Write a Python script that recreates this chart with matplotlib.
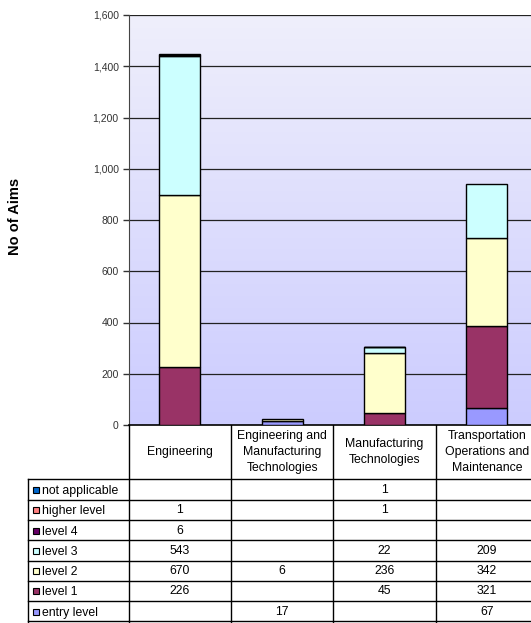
import numpy as np
import matplotlib
matplotlib.use("Agg")
import matplotlib.pyplot as plt
from matplotlib.patches import Rectangle
from matplotlib.ticker import FuncFormatter

plt.rcParams['font.family'] = ['Liberation Sans', 'DejaVu Sans']

# Data
categories = ["Engineering",
              "Engineering and\nManufacturing\nTechnologies",
              "Manufacturing\nTechnologies",
              "Transportation\nOperations and\nMaintenance"]
levels = ["entry level", "level 1", "level 2", "level 3", "level 4",
          "higher level", "not applicable"]
entry_level = [None, 17, None, 67]
level_1 = [226, None, 45, 321]
level_2 = [670, 6, 236, 342]
level_3 = [543, None, 22, 209]
level_4 = [6, None, None, None]
higher_level = [1, None, 1, None]
not_applicable = [None, None, 1, None]
colors = ["#9999ff", "#993366", "#ffffcc", "#ccffff", "#660066",
          "#ff8080", "#0066cc"]
y_ticks = [0, 200, 400, 600, 800, 1000, 1200, 1400, 1600]

series = [entry_level, level_1, level_2, level_3, level_4,
          higher_level, not_applicable]

W, H = 531, 623
fig = plt.figure(figsize=(W / 100, H / 100), dpi=100)

# plot area in pixel coordinates (top-left origin)
ax_left, ax_top, ax_bottom = 128.5, 15, 425
col_w = 102.4
ax_right = ax_left + 4 * col_w
ax = fig.add_axes([ax_left / W, (H - ax_bottom) / H,
                   (ax_right - ax_left) / W, (ax_bottom - ax_top) / H])

# gradient background
grad = np.linspace(0, 1, 256).reshape(-1, 1)
top_c = np.array([0xef, 0xef, 0xfb]) / 255
bot_c = np.array([0xcc, 0xcc, 0xff]) / 255
img = top_c + (bot_c - top_c) * grad
ax.imshow(img[:, None, :].repeat(2, axis=1), extent=[0, 1, 0, 1],
          transform=ax.transAxes, aspect='auto', zorder=0)

ax.set_xlim(0, 4)
ax.set_ylim(0, 1600)
for t in y_ticks[1:]:
    ax.axhline(t, color='#222222', lw=0.9, zorder=1)

x = np.arange(4) + 0.5
bottom = np.zeros(4)
for vals, c in zip(series, colors):
    v = np.array([0 if a is None else a for a in vals], dtype=float)
    for i in range(4):
        if v[i] > 0:
            ax.bar(x[i], v[i], width=0.4, bottom=bottom[i], color=c,
                   edgecolor='black', linewidth=1, zorder=3)
    bottom += v

ax.set_yticks(y_ticks)
ax.yaxis.set_major_formatter(FuncFormatter(lambda v, p: f"{int(v):,}"))
ax.tick_params(axis='y', labelsize=7.5, colors='#333333', length=4,
               width=1, pad=3)
ax.set_xticks([])
for s in ['top', 'right']:
    ax.spines[s].set_visible(False)
ax.spines['left'].set_color('#444444')
ax.spines['bottom'].set_color('black')
ax.spines['bottom'].set_linewidth(1.2)

fig.text(15 / W, 1 - 216 / H, "No of Aims", rotation=90, ha='center',
         va='center', fontsize=10.5, fontweight='bold')

# data table below the chart, pixel coords from top
leg_left = 28.3
tab = fig.add_axes([0, 0, 1, (H - ax_bottom) / H])
tab.set_xlim(0, W)
tab.set_ylim(H, ax_bottom)
tab.axis('off')

header_bottom = 479.3
row_h = 20.3
col_edges = [ax_left + i * col_w for i in range(5)]

for xe in col_edges:
    tab.plot([xe, xe], [ax_bottom, H], color='black', lw=1)
tab.plot([leg_left, leg_left], [header_bottom, H], color='black', lw=1)
for r in range(len(levels) + 1):
    yy = header_bottom + r * row_h
    tab.plot([leg_left, W], [yy, yy], color='black', lw=1)

for i, cat in enumerate(categories):
    tab.text(ax_left + (i + 0.5) * col_w, (ax_bottom + header_bottom) / 2,
             cat, ha='center', va='center', fontsize=8.8, linespacing=1.45)

rows = list(zip(levels, series, colors))[::-1]
for r, (name, vals, c) in enumerate(rows):
    yc = header_bottom + (r + 0.5) * row_h
    tab.add_patch(Rectangle((32.5, yc - 2.5), 6, 6, facecolor=c,
                            edgecolor='black', lw=0.8))
    tab.text(42.5, yc + 1.5, name, ha='left', va='center', fontsize=8.8)
    for i, v in enumerate(vals):
        if v is not None:
            tab.text(ax_left + (i + 0.5) * col_w, yc + 0.5, str(v),
                     ha='center', va='center', fontsize=8.8)

fig.savefig("out.png", dpi=100, facecolor='white')
